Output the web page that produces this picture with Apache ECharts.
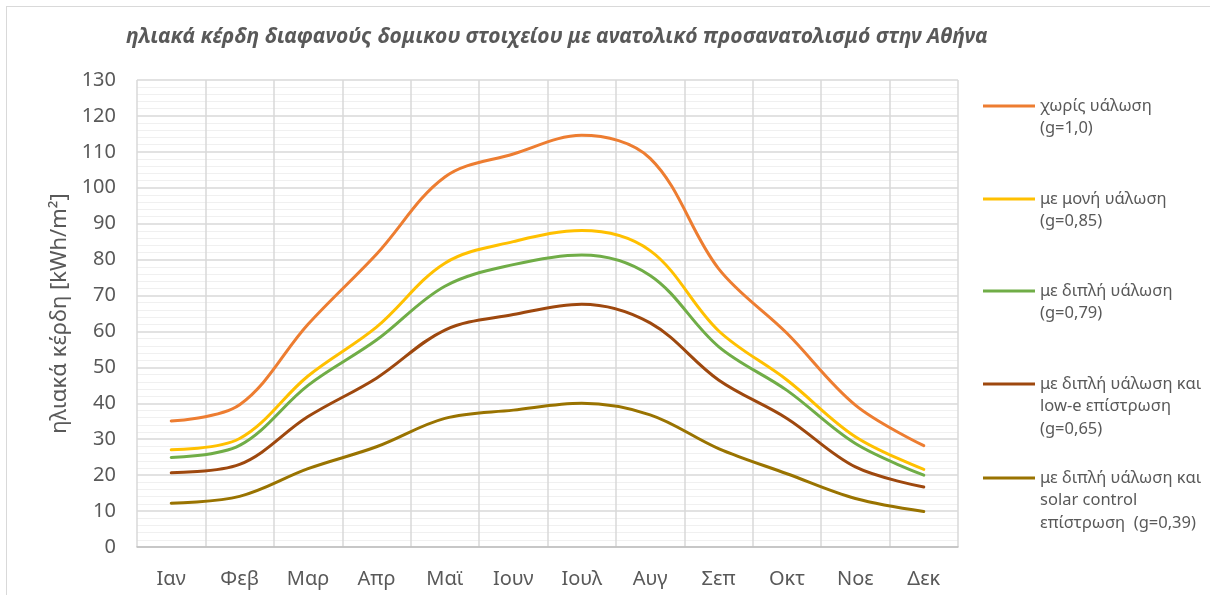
<!DOCTYPE html>
<html>
<head>
<meta charset="utf-8">
<script src="https://cdn.jsdelivr.net/npm/echarts@6/dist/echarts.min.js"></script>
<style>
  html, body { margin: 0; padding: 0; background: #fff; }
  #frame { position: absolute; left: 6px; top: 6px; width: 1220px; height: 600px; border: 1px solid #d9d9d9; box-sizing: border-box; }
  #chart { position: absolute; left: 0; top: 0; width: 1210px; height: 595px; }
</style>
</head>
<body>
<div id="frame"></div>
<div id="chart"></div>
<script>
// Monthly solar gains (kWh/m²) of an east-facing glazed element in Athens
const months = ['Ιαν', 'Φεβ', 'Μαρ', 'Απρ', 'Μαϊ', 'Ιουν', 'Ιουλ', 'Αυγ', 'Σεπ', 'Οκτ', 'Νοε', 'Δεκ'];

const noGlazing     = [35.1, 39.6, 62.0, 81.5, 103.0, 109.4, 114.6, 108.2, 77.5, 59.5, 39.5, 28.2];
const singleGlazing = [27.1, 30.2, 47.6, 61.2, 79.0, 85.0, 88.1, 82.5, 60.2, 46.5, 30.7, 21.6];
const doubleGlazing = [24.9, 28.3, 45.0, 57.6, 72.6, 78.6, 81.3, 75.6, 55.8, 43.6, 28.8, 20.0];
const doubleLowE    = [20.7, 23.0, 36.3, 47.0, 60.4, 64.7, 67.6, 62.4, 46.5, 35.8, 22.3, 16.7];
const doubleSolar   = [12.2, 14.1, 21.8, 27.9, 35.8, 38.1, 40.0, 36.8, 27.4, 20.4, 13.5, 9.9];

const seriesNames = [
  'χωρίς υάλωση\n(g=1,0)',
  'με μονή υάλωση\n(g=0,85)',
  'με διπλή υάλωση\n(g=0,79)',
  'με διπλή υάλωση και\nlow-e επίστρωση\n(g=0,65)',
  'με διπλή υάλωση και\nsolar control\nεπίστρωση  (g=0,39)'
];
const seriesData = [noGlazing, singleGlazing, doubleGlazing, doubleLowE, doubleSolar];
const colors = ['#ED7D31', '#FFC000', '#70AD47', '#9E480E', '#997300'];

const FONT = '"Noto Sans", sans-serif';
const TEXT = '#595959';
const LINE_H = 22.5;
// vertical centre of each legend swatch
const legendCenters = [106, 199, 291, 384, 478];

// One legend per series so the first text line sits level with its swatch:
// empty lines above the name balance the lines below it around the swatch.
const legends = seriesNames.map((name, i) => {
  const lines = name.split('\n').length;
  return {
    data: [name],
    orient: 'vertical',
    left: 983,
    top: legendCenters[i] - (2 * lines - 1) * LINE_H / 2,
    padding: 0,
    itemWidth: 52,
    itemHeight: 3,
    icon: 'path://M0,0H52V3H0Z',
    selectedMode: false,
    formatter: (n) => '\n'.repeat(lines - 1) + n,
    textStyle: {
      fontFamily: FONT,
      fontSize: 16.5,
      color: TEXT,
      lineHeight: LINE_H
    }
  };
});

const chart = echarts.init(document.getElementById('chart'), null, { renderer: 'canvas' });
chart.setOption({
  animation: false,
  backgroundColor: 'transparent',
  title: {
    text: 'ηλιακά κέρδη διαφανούς δομικου στοιχείου με ανατολικό προσανατολισμό στην Αθήνα',
    left: 121,
    top: 22,
    textStyle: { fontFamily: FONT, fontSize: 21, fontWeight: 'bold', fontStyle: 'italic', color: TEXT }
  },
  legend: legends,
  grid: { left: 137, right: 252, top: 80, bottom: 48, containLabel: false },
  xAxis: {
    type: 'category',
    data: months,
    boundaryGap: true,
    axisLine: { show: true, lineStyle: { color: '#bfbfbf', width: 1.5 } },
    axisTick: { show: false },
    axisLabel: { fontFamily: FONT, fontSize: 20, color: TEXT, margin: 22 },
    splitLine: { show: true, lineStyle: { color: '#d9d9d9', width: 1.5 } }
  },
  yAxis: {
    type: 'value',
    min: 0,
    max: 130,
    interval: 10,
    name: 'ηλιακά κέρδη [kWh/m²]',
    nameLocation: 'middle',
    nameGap: 66,
    nameTextStyle: { fontFamily: FONT, fontSize: 22, color: TEXT },
    axisLine: { show: false },
    axisTick: { show: false },
    axisLabel: { fontFamily: FONT, fontSize: 20, color: TEXT, margin: 21 },
    splitLine: { show: true, lineStyle: { color: '#d9d9d9', width: 1.5 } },
    minorTick: { show: false, splitNumber: 5 },
    minorSplitLine: { show: true, lineStyle: { color: '#f0f0f0', width: 1 } }
  },
  series: seriesData.map((data, i) => ({
    name: seriesNames[i],
    type: 'line',
    data: data,
    smooth: 0.35,
    symbol: 'none',
    showSymbol: false,
    color: colors[i],
    lineStyle: { color: colors[i], width: 3, cap: 'round' },
    emphasis: { disabled: true },
    z: 10 - i
  }))
});
</script>
</body>
</html>
